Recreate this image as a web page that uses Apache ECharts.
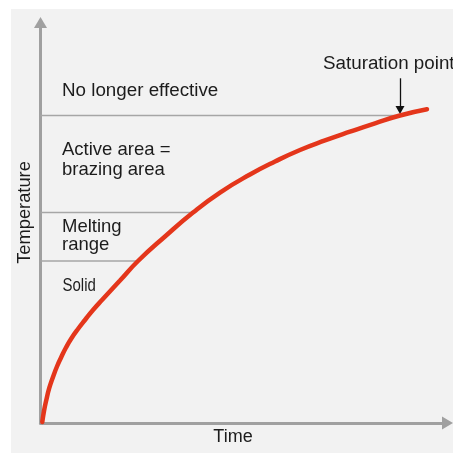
<!DOCTYPE html>
<html>
<head>
<meta charset="utf-8">
<script src="https://cdn.jsdelivr.net/npm/echarts@6/dist/echarts.min.js"></script>
<style>
html,body{margin:0;padding:0;background:#fff;}
#chart{width:453px;height:453px;}
</style>
</head>
<body>
<div id="chart"></div>
<script>
// Heating curve (time vs temperature), abstract units 0-100
const timeValues = [0.44, 0.86, 1.43, 2.16, 3.07, 4.05, 5.11, 6.27, 7.57, 9.21, 10.93, 12.90, 15.11, 19.53, 23.96, 30.59, 37.47, 44.10, 51.47, 57.62, 63.76, 69.90, 76.04, 82.19, 88.33, 94.96];
const tempValues = [0.25, 3.00, 5.74, 8.74, 11.49, 14.11, 16.48, 18.85, 21.10, 23.47, 25.72, 28.21, 30.71, 35.58, 40.45, 46.57, 52.56, 57.55, 62.05, 65.29, 68.16, 70.54, 72.73, 74.83, 76.78, 78.33];

// Zone boundary lines: temperature level and time where they meet the curve
const boundaryTemps = [40.45, 52.56, 76.78];
const boundaryEnds = [23.96, 37.47, 88.33];

// Saturation point marker (arrow from above down to the curve)
const saturationTime = 88.33;
const saturationArrowTop = 86.07;
const saturationArrowBottom = 78.15;

const zoneTexts = ['No longer effective', 'Active area =', 'brazing area', 'Melting', 'range'];
const solidText = 'Solid';
const saturationText = 'Saturation point';
const xName = 'Time';
const yName = 'Temperature';

const chart = echarts.init(document.getElementById('chart'), null, {renderer: 'canvas'});

const boundarySeries = boundaryTemps.map((t, i) => ({
  type: 'line',
  data: [[0, t], [boundaryEnds[i], t]],
  symbol: 'none',
  silent: true,
  lineStyle: {color: '#a6a6a6', width: 1.3},
  z: 2
}));

const font = '"Liberation Sans", Arial, Helvetica, sans-serif';
const textColor = '#1c1c1c';
function txt(str, x, y, size, extra) {
  return Object.assign({
    type: 'text', x: x, y: y, z: 100,
    style: {text: str, font: size + 'px ' + font, fill: textColor, align: 'left', verticalAlign: 'middle'}
  }, extra || {});
}

const zoneY = [91, 150, 170, 226.5, 245];
const zoneSize = [18.8, 18.5, 18.5, 18.5, 18.5];

chart.setOption({
  animation: false,
  backgroundColor: '#ffffff',
  grid: {left: 40.5, top: 22.5, right: 5.5, bottom: 30},
  xAxis: {
    type: 'value', min: 0, max: 100,
    axisLine: {show: true, symbol: ['none', 'triangle'], symbolSize: [13, 11], lineStyle: {color: '#a0a0a0', width: 3}},
    axisTick: {show: false}, axisLabel: {show: false}, splitLine: {show: false}
  },
  yAxis: {
    type: 'value', min: 0, max: 100,
    axisLine: {show: true, symbol: ['none', 'triangle'], symbolSize: [13, 11], lineStyle: {color: '#a0a0a0', width: 3}},
    axisTick: {show: false}, axisLabel: {show: false}, splitLine: {show: false}
  },
  graphic: [
    {type: 'rect', shape: {x: 11, y: 9, width: 442, height: 444}, style: {fill: '#f2f2f2'}, z: -100, silent: true},
    ...zoneTexts.map((s, i) => txt(s, 62, zoneY[i], zoneSize[i])),
    txt(solidText, 62.5, 285.5, 19, {scaleX: 0.79}),
    txt(saturationText, 323, 64, 18.8),
    txt(xName, 233, 437, 18, {style: {text: xName, font: '18px ' + font, fill: textColor, align: 'center', verticalAlign: 'middle'}}),
    txt(yName, 25, 212.5, 18.3, {rotation: Math.PI / 2, style: {text: yName, font: '18.3px ' + font, fill: textColor, align: 'center', verticalAlign: 'middle'}})
  ],
  series: [
    ...boundarySeries,
    {
      type: 'line',
      data: timeValues.map((t, i) => [t, tempValues[i]]),
      smooth: 0.5,
      symbol: 'none',
      silent: true,
      lineStyle: {color: '#e4361b', width: 4.5, cap: 'round'},
      z: 5,
      markLine: {
        silent: true,
        symbol: ['none', 'triangle'],
        symbolSize: [9, 8],
        label: {show: false},
        lineStyle: {color: '#111', width: 1.3, type: 'solid'},
        data: [[{coord: [saturationTime, saturationArrowTop]}, {coord: [saturationTime, saturationArrowBottom]}]]
      }
    }
  ]
});
</script>
</body>
</html>
